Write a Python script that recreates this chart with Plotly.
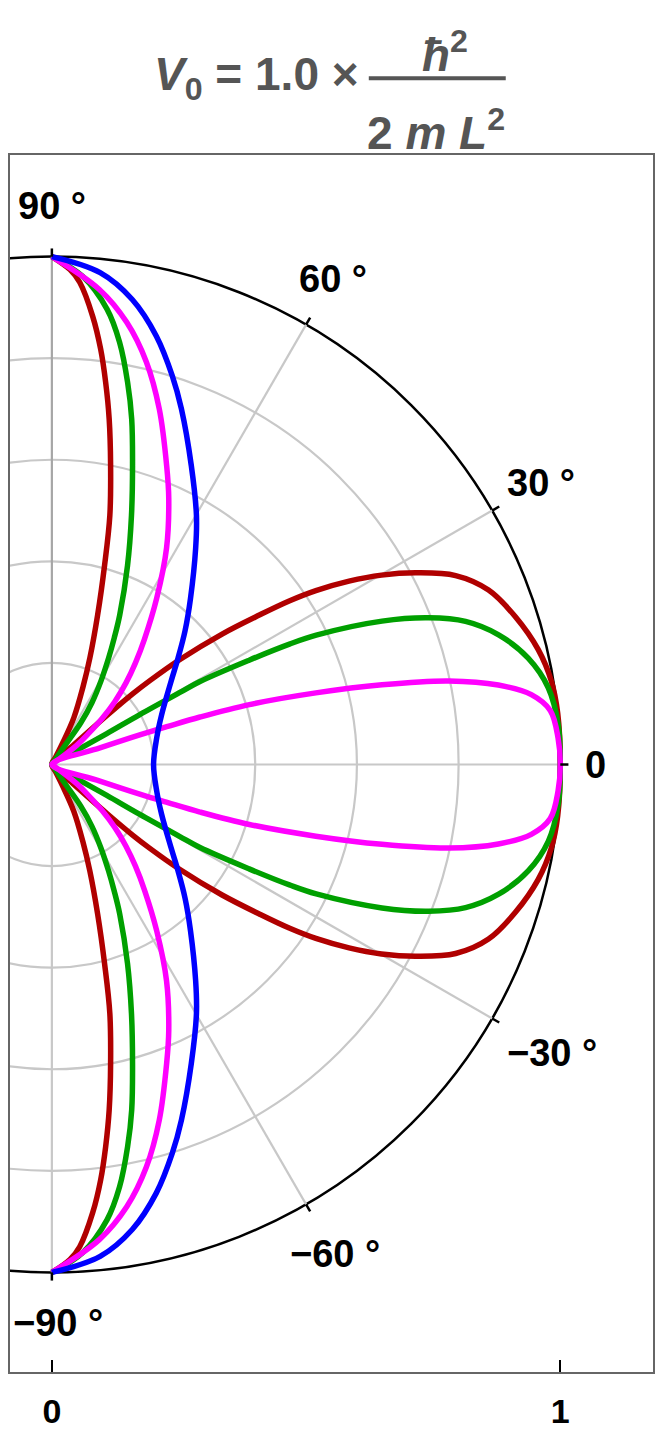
import numpy as np
import plotly.graph_objects as go

# polar curves, upper half only (theta in degrees, 90 -> 0); lower half is the mirror image
# r = 0 marks where a curve passes through the pole between two lobes
red_theta = [90, 87.9, 86.7, 84.8, 83.3, 82.0, 80.6, 78.9, 76.9, 75.2, 73.0, 70.4, 68.1, 64.9, 63.4, 52.0,
             42.1, 41.7, 41.2, 40.6, 39.4, 37.5, 35.8, 34.6, 33.4, 31.7, 29.9, 27.8, 25.1,
             21.8, 17.7, 13.3, 9.5, 5.8, 0]
red_r = [1.0, 0.975, 0.951, 0.886, 0.823, 0.760, 0.690, 0.600, 0.503, 0.406, 0.308, 0.223, 0.163, 0.102, 0.048, 0.0,
         0.056, 0.145, 0.211, 0.253, 0.325, 0.422, 0.503, 0.567, 0.622, 0.687, 0.748, 0.809, 0.877,
         0.925, 0.957, 0.983, 0.996, 1.0, 1.0]

green_theta = [90, 86.4, 83.1, 80.9, 78.8, 77.0, 74.9, 72.3, 69.2, 65.6, 63.8, 62.0, 59.6, 57.1, 55.3, 55.7, 40.0,
               29.7, 29.4, 29.6, 29.4, 29.3, 27.9, 26.9, 26.1, 23.5, 21.3, 19.1, 16.2, 12.6,
               8.8, 4.5, 0]
green_r = [1.0, 0.963, 0.903, 0.842, 0.767, 0.698, 0.609, 0.515, 0.419, 0.323, 0.278, 0.238, 0.191, 0.145, 0.100, 0.040, 0.0,
           0.047, 0.124, 0.198, 0.288, 0.333, 0.439, 0.524, 0.579, 0.708, 0.795, 0.861, 0.915, 0.960,
           0.988, 0.999, 1.0]

magenta_theta = [90, 84.3, 80.4, 76.8, 73.2, 69.0, 66.3, 62.1, 57.8, 53.6, 50.6, 47.8, 45.0, 42.5, 40.2, 37.6, 30.0,
                 19.0, 18.6, 18.2, 17.8, 16.9, 15.2, 13.6, 11.9, 10.1, 8.3, 6.2, 3.0, 0]
magenta_r = [1.0, 0.94, 0.883, 0.814, 0.731, 0.630, 0.572, 0.482, 0.387, 0.307, 0.259, 0.217, 0.175, 0.134, 0.094, 0.061, 0.0,
             0.1, 0.184, 0.24, 0.306, 0.406, 0.538, 0.668, 0.798, 0.892, 0.953, 0.986, 0.997, 1.0]

blue_theta = [90, 84.4, 80.2, 76.3, 72.8, 70.0, 65.0, 59.9, 56.4, 50.2, 45.1, 40.2, 35.1, 24.4, 14.4, 0]
blue_r = [1.0, 0.973, 0.929, 0.868, 0.801, 0.745, 0.649, 0.567, 0.511, 0.426, 0.371, 0.325, 0.287,
          0.237, 0.213, 0.2]

grid_radii = [0.2, 0.4, 0.6, 0.8]
spoke_angles = [60, 30, 0, -30, -60, -90]
label_angles = [90, 60, 30, 0, -30, -60, -90]
label_text = ['90 °', '60 °', '30 °', '0', '−30 °', '−60 °', '−90 °']
label_radius = [1.10, 1.104, 1.11, 1.07, 1.135, 1.112, 1.10]
label_xshift = [0, 0, 0, 0, 0, 0, 6]

FONT = 'Liberation Sans, Arial, sans-serif'


def lobes(theta, r):
    # mirror the upper half to get -90 .. 90, then cut the curve at the pole
    th = list(theta) + [-t for t in reversed(theta[:-1])]
    rr = list(r) + list(reversed(r[:-1]))
    segs, cur = [], []
    for t, v in zip(th, rr):
        cur.append((t, v))
        if v == 0 and len(cur) > 1:
            segs.append(cur)
            cur = [(t, v)]
    segs.append(cur)
    out = []
    for s in segs:
        t = np.radians([p[0] for p in s])
        v = np.array([p[1] for p in s])
        out.append((v * np.cos(t), v * np.sin(t)))
    return out


fig = go.Figure()

curves = [
    (red_theta, red_r, '#B00000'),
    (green_theta, green_r, '#00A000'),
    (magenta_theta, magenta_r, '#FF00FF'),
    (blue_theta, blue_r, '#0000FF'),
]
for th, r, col in curves:
    for x, y in lobes(th, r):
        fig.add_trace(go.Scatter(
            x=x, y=y, mode='lines',
            line=dict(color=col, width=5.5, shape='spline', smoothing=1.0),
            hoverinfo='skip', showlegend=False
        ))

# grid circles (full circles, clipped by the frame)
for rad in grid_radii:
    fig.add_shape(type='circle', xref='x', yref='y', x0=-rad, x1=rad, y0=-rad, y1=rad,
                  line=dict(color='#c8c8c8', width=2.2), layer='below')
fig.add_shape(type='circle', xref='x', yref='y', x0=-1, x1=1, y0=-1, y1=1,
              line=dict(color='black', width=2.5), layer='below')

# spokes
for a in spoke_angles:
    t = np.radians(a)
    fig.add_shape(type='line', xref='x', yref='y', x0=0, y0=0, x1=np.cos(t), y1=np.sin(t),
                  line=dict(color='#c8c8c8', width=2.2), layer='below')
fig.add_shape(type='line', xref='x', yref='y', x0=0, y0=0, x1=0, y1=1,
              line=dict(color='#a6a6a6', width=2.2), layer='below')

# ticks on the rim + angle labels
for a, txt, lr, xs in zip(label_angles, label_text, label_radius, label_xshift):
    t = np.radians(a)
    fig.add_shape(type='line', xref='x', yref='y',
                  x0=np.cos(t), y0=np.sin(t), x1=1.016 * np.cos(t), y1=1.016 * np.sin(t),
                  line=dict(color='black', width=2.5))
    fig.add_annotation(x=lr * np.cos(t), y=lr * np.sin(t), text='<b>%s</b>' % txt,
                       showarrow=False, xanchor='center', yanchor='middle', xshift=xs,
                       font=dict(family=FONT, size=38, color='black'))

# title: V0 = 1.0 x hbar^2 / (2 m L^2)
title_col = '#555555'
title_font = dict(family=FONT, size=46, color=title_col)
fig.add_annotation(xref='paper', yref='paper', x=0.3837, y=1.0638,
                   text='<b><i>V</i><sub>0</sub> = 1.0 ×</b>', showarrow=False,
                   xanchor='center', yanchor='middle', font=title_font)
fig.add_annotation(xref='paper', yref='paper', x=0.676, y=1.0843,
                   text='<b><i>ħ</i><sup>2</sup></b>', showarrow=False,
                   xanchor='center', yanchor='middle', font=title_font)
fig.add_annotation(xref='paper', yref='paper', x=0.662, y=1.0205,
                   text='<b>2 <i>m L</i><sup>2</sup></b>', showarrow=False,
                   xanchor='center', yanchor='middle', font=title_font)
fig.add_shape(type='line', xref='paper', yref='paper', x0=0.558, x1=0.771, y0=1.063, y1=1.063,
              line=dict(color=title_col, width=4))

fig.update_xaxes(
    range=[-0.08235, 1.18235], showgrid=False, zeroline=False,
    showline=True, mirror=True, linecolor='#666666', linewidth=2,
    tickvals=[0, 1], ticktext=['<b>0</b>', '<b>1</b>'],
    ticks='inside', ticklen=12, tickwidth=1.5, tickcolor='black',
    tickfont=dict(family=FONT, size=34, color='black'), ticklabelstandoff=8
)
fig.update_yaxes(
    range=[-1.196, 1.2], showgrid=False, zeroline=False,
    showline=True, mirror=True, linecolor='#666666', linewidth=2,
    showticklabels=False, ticks=''
)
fig.update_layout(
    width=649, height=1424, autosize=False,
    margin=dict(l=2, r=2, t=147, b=55),
    paper_bgcolor='white', plot_bgcolor='white',
    showlegend=False
)

fig.write_html("out.html")
